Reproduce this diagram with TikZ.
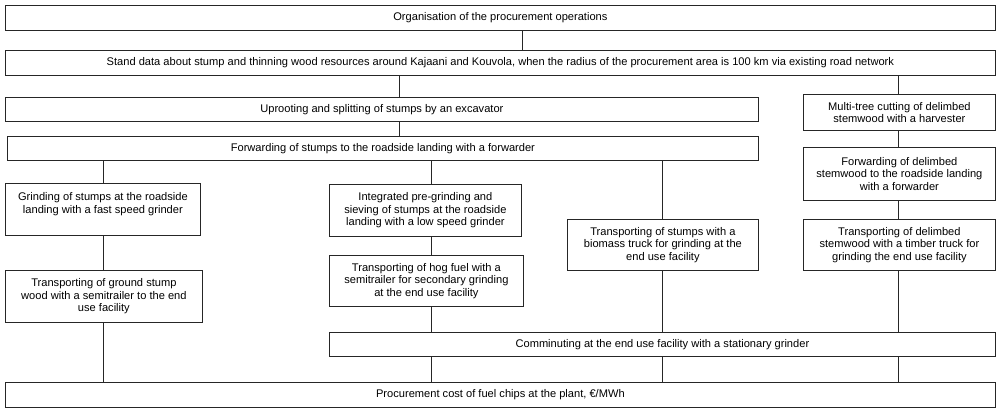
\documentclass[tikz,border=0pt]{standalone}
\usepackage{fontspec}
\setmainfont{Liberation Sans}
\usetikzlibrary{positioning}

\begin{document}
\begin{tikzpicture}[x=1pt, y=-1pt,
  stepbox/.style={draw=black!85, line width=0.8pt, fill=white, inner sep=2pt,
    align=center, anchor=north west, font=\fontsize{11.1}{12.5}\selectfont},
  boxsize/.style 2 args={minimum width=#1, minimum height=#2},
  link/.style={draw=black!85, line width=0.8pt},
]
  \useasboundingbox (0,0) rectangle (1000,411);

  % columns of the connectors
  \coordinate (c0) at (522,0);
  \coordinate (cA) at (399,0);
  \coordinate (cB) at (898,0);
  \coordinate (c1) at (103,0);
  \coordinate (c2) at (431,0);
  \coordinate (c3) at (662,0);

  % common steps
  \node[stepbox, boxsize={990}{25}] (org) at (5,5) {Organisation of the procurement operations};
  \node[stepbox, boxsize={990}{25}] (stand) at (5,50) {Stand data about stump and thinning wood resources around Kajaani and Kouvola, when the radius of the procurement area is 100 km via existing road network};

  % stump chain
  \node[stepbox, boxsize={753}{24}] (uproot) at (5,97) {Uprooting and splitting of stumps by an excavator};
  \node[stepbox, boxsize={751}{24}] (fwd) at (7,136) {Forwarding of stumps to the roadside landing with a forwarder};
  \node[stepbox, boxsize={195}{52}] (grind) at (5,183) {Grinding of stumps at the roadside\\landing with a fast speed grinder\\\mbox{}};
  \node[stepbox, boxsize={197}{52}] (ground) at (5,270) {Transporting of ground stump\\wood with a semitrailer to the end\\use facility};
  \node[stepbox, boxsize={192}{52}] (integ) at (329,184) {Integrated pre-grinding and\\sieving of stumps at the roadside\\landing with a low speed grinder};
  \node[stepbox, boxsize={194}{51}] (hog) at (329,255) {Transporting of hog fuel with a\\semitrailer for secondary grinding\\at the end use facility};
  \node[stepbox, boxsize={191}{51}] (truck) at (567,219) {Transporting of stumps with a\\biomass truck for grinding at the\\end use facility};

  % stemwood chain
  \node[stepbox, boxsize={192}{36}] (multi) at (803,94) {Multi-tree cutting of delimbed\\stemwood with a harvester};
  \node[stepbox, boxsize={192}{53}] (fwdd) at (803,147) {Forwarding of delimbed\\stemwood to the roadside landing\\with a forwarder};
  \node[stepbox, boxsize={192}{51}] (timber) at (803,219) {Transporting of delimbed\\stemwood with a timber truck for\\grinding the end use facility};

  % end of the chains
  \node[stepbox, boxsize={666}{24}] (comm) at (329,332) {Comminuting at the end use facility with a stationary grinder};
  \node[stepbox, boxsize={990}{25}] (proc) at (5,382) {Procurement cost of fuel chips at the plant, €/MWh};

  % connectors
  \draw[link] (c0 |- org.south) -- (c0 |- stand.north);
  \foreach \a/\b in {stand/uproot, uproot/fwd}
    \draw[link] (cA |- \a.south) -- (cA |- \b.north);
  \foreach \a/\b in {stand/multi, multi/fwdd, fwdd/timber, timber/comm, comm/proc}
    \draw[link] (cB |- \a.south) -- (cB |- \b.north);
  \foreach \a/\b in {fwd/grind, grind/ground, ground/proc}
    \draw[link] (c1 |- \a.south) -- (c1 |- \b.north);
  \foreach \a/\b in {fwd/integ, integ/hog, hog/comm, comm/proc}
    \draw[link] (c2 |- \a.south) -- (c2 |- \b.north);
  \foreach \a/\b in {fwd/truck, truck/comm, comm/proc}
    \draw[link] (c3 |- \a.south) -- (c3 |- \b.north);
\end{tikzpicture}
\end{document}
